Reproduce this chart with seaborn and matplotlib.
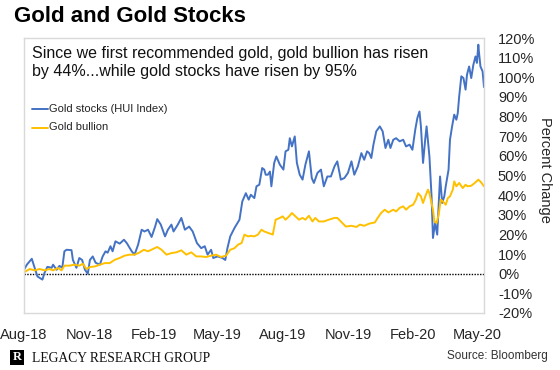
import matplotlib
matplotlib.use("Agg")
import matplotlib.pyplot as plt
from matplotlib.patches import Rectangle
import seaborn as sns
import pandas as pd

title = "Gold and Gold Stocks"
subtitle = ("Since we first recommended gold, gold bullion has risen\n"
            "by 44%...while gold stocks have risen by 95%")
series_names = ["Gold stocks (HUI Index)", "Gold bullion"]
colors = ["#4472C4", "#FFC000"]

stock_dates = [
    "2018-08-01", "2018-08-05", "2018-08-12", "2018-08-16", "2018-08-20", "2018-08-27", "2018-08-30",
    "2018-09-03", "2018-09-09", "2018-09-11", "2018-09-16", "2018-09-20", "2018-09-24", "2018-09-27",
    "2018-09-30", "2018-10-07", "2018-10-09", "2018-10-14", "2018-10-18", "2018-10-22", "2018-10-26",
    "2018-10-30", "2018-11-02", "2018-11-06", "2018-11-10", "2018-11-16", "2018-11-20", "2018-11-24",
    "2018-11-27", "2018-12-01", "2018-12-04", "2018-12-08", "2018-12-14", "2018-12-20", "2018-12-24",
    "2018-12-31", "2019-01-04", "2019-01-09", "2019-01-14", "2019-01-18", "2019-01-23", "2019-01-28",
    "2019-02-02", "2019-02-05", "2019-02-10", "2019-02-16", "2019-02-20", "2019-02-25", "2019-02-28",
    "2019-03-06", "2019-03-11", "2019-03-16", "2019-03-22", "2019-03-27", "2019-04-02", "2019-04-08",
    "2019-04-13", "2019-04-17", "2019-04-22", "2019-04-25", "2019-05-01", "2019-05-08", "2019-05-12",
    "2019-05-15", "2019-05-19", "2019-05-25", "2019-06-01", "2019-06-05", "2019-06-10", "2019-06-14",
    "2019-06-17", "2019-06-22", "2019-06-25", "2019-06-29", "2019-07-03", "2019-07-06", "2019-07-08",
    "2019-07-11", "2019-07-14", "2019-07-16", "2019-07-20", "2019-07-23", "2019-07-28", "2019-08-02",
    "2019-08-05", "2019-08-09", "2019-08-11", "2019-08-14", "2019-08-18", "2019-08-21", "2019-08-25",
    "2019-08-29", "2019-09-02", "2019-09-07", "2019-09-11", "2019-09-14", "2019-09-19", "2019-09-24",
    "2019-09-28", "2019-10-03", "2019-10-08", "2019-10-13", "2019-10-17", "2019-10-22", "2019-10-27",
    "2019-11-01", "2019-11-06", "2019-11-10", "2019-11-15", "2019-11-20", "2019-11-24", "2019-11-28",
    "2019-12-01", "2019-12-04", "2019-12-07", "2019-12-11", "2019-12-16", "2019-12-20", "2019-12-24",
    "2019-12-28", "2019-12-31", "2020-01-04", "2020-01-08", "2020-01-13", "2020-01-18", "2020-01-22",
    "2020-01-27", "2020-01-31", "2020-02-04", "2020-02-07", "2020-02-10", "2020-02-12", "2020-02-15",
    "2020-02-18", "2020-02-20", "2020-02-24", "2020-02-27", "2020-02-29", "2020-03-03", "2020-03-06",
    "2020-03-10", "2020-03-13", "2020-03-16", "2020-03-18", "2020-03-22", "2020-03-24", "2020-03-27",
    "2020-03-30", "2020-04-02", "2020-04-04", "2020-04-06", "2020-04-09", "2020-04-12", "2020-04-15",
    "2020-04-17", "2020-04-20", "2020-04-23", "2020-04-26", "2020-04-29", "2020-05-01", "2020-05-03",
    "2020-05-04", "2020-05-06", "2020-05-09", "2020-05-11",
]
stock_values = [
    2, 4.6, 7.6, 3, -1.4, -3, 0.5,
    3.5, 3, 4.6, 2, 4, 3, 11.4,
    12.2, 12, 7, 3, 8, 7, 2,
    0, 7, 8.8, 5.6, 4.6, 8.8, 11.4,
    10.7, 14, 11.4, 16.5, 15.3, 17.3, 15.6,
    11.4, 9.7, 14.8, 22.4, 21.5, 22.4, 18.7,
    24, 27.8, 25, 19, 22.4, 25, 21.5,
    25, 28.4, 22.4, 24, 21.5, 15.6, 13,
    14, 9.7, 12.2, 8, 8.8, 8, 7,
    13, 19, 23.3, 27.5, 36.8, 41, 37.7,
    40.2, 38.5, 44.5, 45.3, 53.8, 53, 50.4,
    50.4, 52, 44.5, 56.4, 59.7, 55.5, 53,
    62.3, 63.1, 69, 64.8, 69.9, 56.4, 50.4,
    47.9, 55.5, 62.3, 48.7, 46.2, 51.3, 53,
    44.5, 49.5, 49.5, 54.6, 57.2, 47.9, 48.7,
    51.3, 57.2, 50.4, 54.6, 61.4, 58, 62.3,
    61.4, 58.9, 65.7, 72.5, 75, 72.5, 64,
    68.2, 64, 68.2, 69, 67.4, 68.2, 64.8,
    65.7, 63.1, 73.3, 79.3, 82.6, 75, 56.4,
    68.2, 75, 59.7, 39.4, 18.2, 25.8, 19.9,
    49.5, 36, 39.4, 44.5, 53, 68.2, 75,
    81, 78.4, 81.8, 90.3, 100.5, 99.6, 93.7,
    101.3, 105.5, 99.6, 106.4, 110.6, 107.3, 116.6,
    112.4, 105.5, 103, 95,
]

bullion_dates = [
    "2018-08-01", "2018-08-09", "2018-08-16", "2018-08-23", "2018-08-30", "2018-09-06", "2018-09-11",
    "2018-09-18", "2018-09-23", "2018-09-27", "2018-10-04", "2018-10-11", "2018-10-18", "2018-10-23",
    "2018-10-28", "2018-11-02", "2018-11-09", "2018-11-16", "2018-11-23", "2018-11-30", "2018-12-07",
    "2018-12-14", "2018-12-21", "2018-12-28", "2019-01-04", "2019-01-11", "2019-01-17", "2019-01-23",
    "2019-01-30", "2019-02-05", "2019-02-11", "2019-02-18", "2019-02-25", "2019-03-04", "2019-03-11",
    "2019-03-18", "2019-03-25", "2019-04-01", "2019-04-08", "2019-04-15", "2019-04-22", "2019-04-29",
    "2019-05-06", "2019-05-13", "2019-05-19", "2019-05-25", "2019-05-30", "2019-06-04", "2019-06-08",
    "2019-06-13", "2019-06-17", "2019-06-22", "2019-06-27", "2019-07-02", "2019-07-06", "2019-07-12",
    "2019-07-18", "2019-07-22", "2019-07-28", "2019-08-01", "2019-08-05", "2019-08-10", "2019-08-14",
    "2019-08-19", "2019-08-24", "2019-08-29", "2019-09-02", "2019-09-07", "2019-09-12", "2019-09-16",
    "2019-09-21", "2019-09-28", "2019-10-05", "2019-10-13", "2019-10-17", "2019-10-22", "2019-10-29",
    "2019-11-06", "2019-11-13", "2019-11-18", "2019-11-24", "2019-12-01", "2019-12-09", "2019-12-13",
    "2019-12-18", "2019-12-23", "2019-12-28", "2020-01-04", "2020-01-08", "2020-01-13", "2020-01-18",
    "2020-01-22", "2020-01-27", "2020-02-01", "2020-02-05", "2020-02-08", "2020-02-12", "2020-02-15",
    "2020-02-19", "2020-02-22", "2020-02-24", "2020-02-29", "2020-03-02", "2020-03-05", "2020-03-08",
    "2020-03-11", "2020-03-14", "2020-03-18", "2020-03-21", "2020-03-24", "2020-03-28", "2020-03-30",
    "2020-04-02", "2020-04-06", "2020-04-11", "2020-04-15", "2020-04-18", "2020-04-23", "2020-04-28",
    "2020-05-03", "2020-05-07", "2020-05-11",
]
bullion_values = [
    0.7, 2.4, 1.7, 2.4, 1.7, 2.4, 1.7,
    2.9, 1.7, 4.1, 4.1, 4.6, 4.1, 5.1,
    2.4, 3.4, 3.7, 4.6, 5.4, 5.4, 7.1,
    8, 9.2, 9.7, 9.7, 10.8, 12.2, 11.4,
    12.6, 13.6, 12.2, 9.7, 10.5, 10.9, 11.9,
    9.7, 10.9, 8.8, 8.8, 8.5, 9.2, 9.7,
    8.5, 9.2, 12.2, 13, 14.8, 15.6, 19.9,
    19, 19.3, 19, 19.9, 22.4, 21.5, 20.7,
    19.9, 27.5, 28.4, 29.2, 27.5, 29.2, 30.9,
    29.2, 27.5, 28.4, 27.5, 29.5, 26.6, 28.4,
    26.6, 26.6, 27.5, 28.4, 28.4, 26.6, 24,
    24.4, 23.8, 25, 24.4, 25.5, 26.1, 28.4,
    31, 32.6, 31.2, 32.6, 31.7, 33.5, 34.3,
    32.6, 34.3, 35.1, 37.7, 41, 39.4, 36,
    40.2, 42.8, 41, 32.6, 26.6, 25.8, 30,
    37.7, 36.8, 35.1, 38.5, 39.4, 42.8, 47,
    44.5, 46.2, 43.6, 45.3, 44.5, 44.8, 46.2,
    47.9, 46.5, 44.5,
]

y_ticks = [-20, -10, 0, 10, 20, 30, 40, 50, 60, 70, 80, 90, 100, 110, 120]
x_tick_labels = ["Aug-18", "Nov-18", "Feb-19", "May-19", "Aug-19", "Nov-19", "Feb-20", "May-20"]
x_tick_dates = ["2018-08-01", "2018-11-01", "2019-02-01", "2019-05-01",
                "2019-08-01", "2019-11-01", "2020-02-01", "2020-05-01"]
x_range = ["2018-08-01", "2020-05-11"]

df = pd.concat([
    pd.DataFrame({"date": pd.to_datetime(stock_dates), "value": stock_values, "series": series_names[0]}),
    pd.DataFrame({"date": pd.to_datetime(bullion_dates), "value": bullion_values, "series": series_names[1]}),
], ignore_index=True)

sns.set_style("white")
plt.rcParams["font.family"] = ["Liberation Sans", "DejaVu Sans"]

fig = plt.figure(figsize=(5.6, 3.7), dpi=100)
ax = fig.add_axes([24 / 560, 1 - 313 / 370, 460 / 560, 275 / 370])

sns.lineplot(data=df, x="date", y="value", hue="series", palette=colors,
             hue_order=series_names, linewidth=1.4, ax=ax, legend=False)

ax.axhline(0, color="black", linestyle=(0, (1, 1)), linewidth=1.0, zorder=1)

ax.set_xlim(pd.to_datetime(x_range[0]), pd.to_datetime(x_range[1]))
ax.set_ylim(y_ticks[0], y_ticks[-1])
ax.set_xticks(pd.to_datetime(x_tick_dates))
ax.set_xticklabels(x_tick_labels, fontsize=10.5)
ax.set_yticks(y_ticks)
ax.set_yticklabels([f"{v}%" for v in y_ticks], fontsize=10.5, ha="left")
ax.yaxis.tick_right()
ax.yaxis.set_label_position("right")
ax.tick_params(axis="both", length=0)
ax.tick_params(axis="y", pad=10)
ax.tick_params(axis="x", pad=11)
ax.set_xlabel("")
ax.set_ylabel("Percent Change", rotation=270, fontsize=10.5, va="center", ha="center")
ax.yaxis.set_label_coords((545 - 24) / 460, (313 - 170) / 275)
for s in ax.spines.values():
    s.set_color("#D9D9D9")
    s.set_linewidth(1.0)

# subtitle inside the plot frame
ax.text(8 / 460, 1 - 8 / 275, subtitle, transform=ax.transAxes, fontsize=11.5,
        va="top", ha="left", linespacing=1.25, color="#111111")

# legend (manual to mimic Excel style)
for i, (name, col) in enumerate(zip(series_names, colors)):
    yy = 1 - (70.5 + 19 * i) / 275
    ax.plot([8 / 460, 24 / 460], [yy, yy], transform=ax.transAxes, color=col, lw=1.4)
    ax.text(25 / 460, yy, name, transform=ax.transAxes, fontsize=8,
            va="center", ha="left", color="#222222")

fig.text(14 / 560, 1 - 17 / 370, title, fontsize=16, fontweight="bold",
         va="center", ha="left", color="black")

# logo and footer
fig.patches.append(Rectangle((10 / 560, 1 - 365 / 370), 14 / 560, 15 / 370,
                             transform=fig.transFigure, facecolor="black", edgecolor="none"))
fig.text(17 / 560, 1 - 357.5 / 370, "R", fontsize=9, color="white", ha="center", va="center",
         family=["Liberation Serif", "DejaVu Serif"], fontweight="bold")
fig.text(32 / 560, 1 - 358 / 370, "LEGACY RESEARCH GROUP", fontsize=9.8,
         family=["Liberation Serif", "DejaVu Serif"], va="center", ha="left", color="#111111")
fig.text(548 / 560, 1 - 356 / 370, "Source: Bloomberg", fontsize=8.5, va="center",
         ha="right", color="#333333")

fig.savefig("out.png", dpi=100)
